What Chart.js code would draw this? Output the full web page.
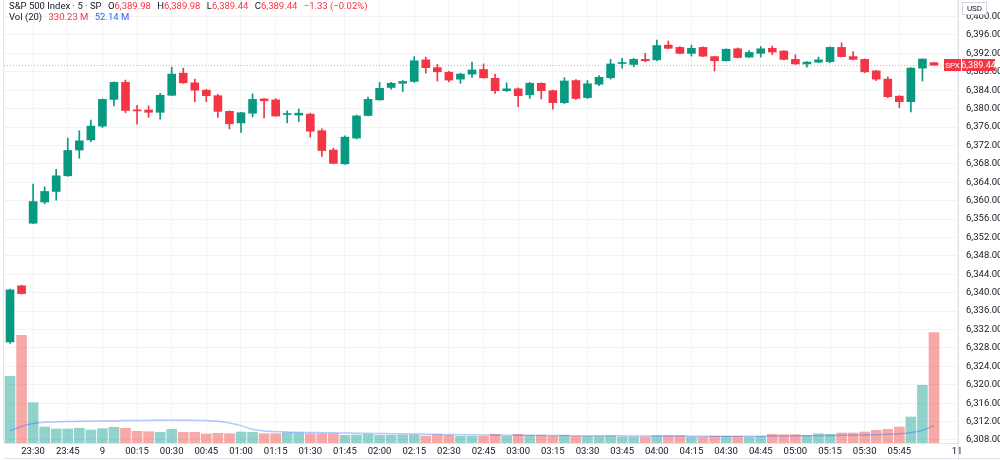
<!DOCTYPE html>
<html>
<head>
<meta charset="utf-8">
<script src="https://cdn.jsdelivr.net/npm/chart.js@4.4.1/dist/chart.umd.min.js"></script>
<style>
  html, body { margin: 0; padding: 0; background: #fff; }
  #wrap { position: relative; width: 1000px; height: 460px; }
  #legend { position: absolute; left: 9px; top: 1px; font: 9.5px Roboto, "Noto Sans", sans-serif; color: #131722; line-height: 10.5px; pointer-events: none; white-space: nowrap; }
  #legend .r { color: #f23645; }
  #legend .b { color: #2962ff; }
  #legend span.k { margin-left: 4px; }
</style>
</head>
<body>
<div id="wrap">
  <canvas id="chart" width="1000" height="460"></canvas>
  <div id="legend">
    <div>S&amp;P 500 Index · 5 · SP <span class="k">O</span><span class="r">6,389.98</span> <span class="k">H</span><span class="r">6,389.98</span> <span class="k">L</span><span class="r">6,389.44</span> <span class="k">C</span><span class="r">6,389.44</span> <span class="r k">−1.33 (−0.02%)</span></div>
    <div>Vol (20) <span class="r k">330.23 M</span> <span class="b k">52.14 M</span></div>
  </div>
</div>
<script>
// Dados das velas de 5 minutos (23:20 -> 06:00)
const opens = [6329.3, 6341.5, 6355.1, 6359.7, 6362.0, 6365.4, 6371.0, 6373.2, 6376.2, 6382.0,
  6385.7, 6379.7, 6379.7, 6379.2, 6382.9, 6387.7, 6385.6, 6384.0, 6382.8, 6379.4,
  6376.9, 6379.0, 6382.1, 6381.9, 6378.7, 6378.6, 6378.8, 6375.2, 6371.0, 6368.0,
  6373.6, 6378.5, 6381.9, 6384.6, 6385.5, 6385.9, 6390.6, 6388.9, 6387.9, 6386.4,
  6387.5, 6388.5, 6386.6, 6383.9, 6384.3, 6383.0, 6385.5, 6383.9, 6381.3, 6386.1,
  6382.4, 6385.3, 6386.7, 6389.8, 6389.6, 6390.7, 6390.6, 6393.8, 6393.3, 6392.0,
  6393.3, 6391.3, 6390.4, 6393.0, 6391.2, 6392.0, 6393.1, 6392.5, 6390.7, 6389.7,
  6390.1, 6390.2, 6393.3, 6391.3, 6390.7, 6388.2, 6386.4, 6382.7, 6381.5, 6388.8,
  6389.98];
const highs = [6340.8, 6341.6, 6363.6, 6363.0, 6366.8, 6373.6, 6375.2, 6377.5, 6382.1, 6385.8,
  6386.2, 6380.7, 6380.6, 6383.3, 6389.0, 6388.8, 6386.4, 6384.2, 6383.1, 6379.5,
  6379.2, 6383.2, 6382.2, 6382.2, 6379.5, 6379.9, 6379.0, 6375.6, 6371.4, 6374.1,
  6378.6, 6382.5, 6385.7, 6385.7, 6386.1, 6391.3, 6391.2, 6389.6, 6388.1, 6387.7,
  6390.1, 6389.7, 6387.5, 6385.6, 6384.5, 6385.7, 6385.6, 6384.0, 6386.7, 6386.3,
  6386.1, 6387.2, 6390.7, 6390.9, 6390.9, 6392.0, 6394.9, 6394.7, 6393.5, 6393.8,
  6393.4, 6391.4, 6393.0, 6393.2, 6392.6, 6393.5, 6393.6, 6392.6, 6391.7, 6390.2,
  6391.2, 6393.4, 6394.3, 6392.4, 6390.8, 6388.3, 6386.9, 6382.8, 6388.9, 6390.8,
  6389.98];
const lows = [6329.0, 6339.7, 6355.0, 6359.3, 6360.1, 6365.3, 6369.2, 6372.8, 6375.9, 6380.6,
  6379.1, 6376.6, 6378.1, 6377.7, 6382.8, 6385.5, 6381.5, 6381.5, 6378.1, 6375.6,
  6374.8, 6378.2, 6378.0, 6378.3, 6376.9, 6377.2, 6373.8, 6369.6, 6368.0, 6367.9,
  6373.4, 6378.4, 6381.8, 6384.2, 6383.7, 6385.7, 6387.7, 6386.0, 6385.8, 6385.5,
  6386.8, 6386.6, 6383.3, 6383.7, 6380.4, 6382.2, 6382.1, 6379.9, 6381.1, 6382.0,
  6382.2, 6385.0, 6386.4, 6388.8, 6389.1, 6390.2, 6390.4, 6393.0, 6391.9, 6391.4,
  6391.3, 6388.2, 6390.3, 6391.0, 6391.1, 6391.2, 6391.7, 6390.6, 6389.6, 6389.0,
  6390.0, 6390.0, 6391.2, 6390.6, 6387.8, 6386.1, 6382.4, 6380.2, 6379.3, 6386.0,
  6389.44];
const closes = [6340.6, 6339.8, 6359.8, 6362.0, 6365.4, 6370.9, 6373.0, 6376.2, 6382.0, 6385.7,
  6379.6, 6379.5, 6379.2, 6382.9, 6387.5, 6385.6, 6384.0, 6382.8, 6379.4, 6376.7,
  6379.1, 6382.0, 6381.7, 6378.4, 6378.8, 6379.0, 6375.1, 6370.9, 6368.1, 6373.8,
  6378.4, 6382.0, 6384.4, 6385.5, 6385.9, 6390.4, 6388.9, 6388.0, 6386.2, 6387.5,
  6388.4, 6386.7, 6383.9, 6384.3, 6382.8, 6385.5, 6383.9, 6381.3, 6386.0, 6382.2,
  6385.4, 6386.8, 6389.7, 6389.9, 6390.7, 6390.4, 6393.7, 6393.1, 6392.0, 6393.1,
  6391.4, 6390.4, 6392.9, 6391.1, 6392.2, 6393.0, 6392.3, 6390.7, 6389.7, 6390.1,
  6390.6, 6393.3, 6391.3, 6390.7, 6388.0, 6386.4, 6382.6, 6381.5, 6388.8, 6390.77,
  6389.44];
// Volume em milhões
const volumes = [199.5, 322.0, 120.5, 47.8, 41.9, 41.9, 44.0, 38.9, 42.8, 47.0,
  44.0, 35.0, 33.8, 32.0, 41.0, 32.0, 32.0, 26.9, 29.0, 27.8,
  32.9, 32.0, 27.8, 27.8, 30.8, 29.9, 27.8, 27.8, 27.8, 23.0,
  23.9, 26.0, 23.0, 23.0, 23.9, 23.9, 20.9, 24.8, 23.0, 20.0,
  20.0, 20.0, 26.0, 20.0, 26.0, 23.0, 23.0, 20.9, 23.0, 20.0,
  20.0, 20.0, 20.9, 17.9, 17.9, 17.9, 21.8, 21.8, 21.8, 17.9,
  17.9, 20.0, 20.0, 20.0, 17.9, 20.0, 26.0, 24.8, 24.8, 23.0,
  27.8, 26.0, 29.9, 29.9, 32.9, 38.0, 41.0, 47.8, 77.7, 172.5,
  330.23];
// Média móvel do volume (20)
const volumeMA = [36, 50, 58, 62, 63, 64, 65, 65, 66, 66,
  67, 67, 68, 68, 68, 68, 68, 67, 65, 60,
  52, 41, 36, 34, 33, 32, 31.5, 31, 30.5, 30,
  29.5, 29, 28.5, 28, 27.5, 27, 26.5, 26, 25.5, 25,
  24.5, 24, 24, 23.5, 23.5, 23, 23, 22.5, 22.5, 22,
  22, 22, 21.5, 21.5, 21, 21, 21, 21, 21, 20.5,
  20.5, 20.5, 20.5, 20.5, 20.5, 20.5, 21, 21, 21.5, 21.5,
  22, 22.5, 23, 23.5, 24, 25, 26.5, 28, 31, 38,
  52.14];
// Rótulos do eixo do tempo
const tickIdx = [2, 5, 8, 11, 14, 17, 20, 23, 26, 29, 32, 35, 38, 41, 44, 47, 50, 53, 56, 59, 62, 65, 68, 71, 74, 77, 82];
const tickLabels = ['23:30', '23:45', '9', '00:15', '00:30', '00:45', '01:00', '01:15', '01:30', '01:45',
  '02:00', '02:15', '02:30', '02:45', '03:00', '03:15', '03:30', '03:45', '04:00', '04:15',
  '04:30', '04:45', '05:00', '05:15', '05:30', '05:45', '11'];
const lastPrice = 6389.44;

const UP = '#089981', DOWN = '#f23645';
const UP_VOL = 'rgba(38, 166, 154, 0.5)', DOWN_VOL = 'rgba(239, 83, 80, 0.5)';

const isUp = closes.map((c, i) => c >= opens[i]);
const candleColors = isUp.map(u => u ? UP : DOWN);
const volColors = isUp.map(u => u ? UP_VOL : DOWN_VOL);

const fmt = v => v.toLocaleString('en-US', { minimumFractionDigits: 2, maximumFractionDigits: 2 });

// Linha do último preço + etiquetas do eixo
const priceLinePlugin = {
  id: 'priceLine',
  beforeDatasetsDraw(chart) {
    const { ctx, chartArea: a, scales: { y } } = chart;
    const py = Math.round(y.getPixelForValue(lastPrice)) + 0.5;
    ctx.save();
    ctx.strokeStyle = 'rgba(242, 54, 69, 0.45)';
    ctx.lineWidth = 1;
    ctx.setLineDash([1, 2]);
    ctx.beginPath();
    ctx.moveTo(a.left, py);
    ctx.lineTo(a.right, py);
    ctx.stroke();
    ctx.restore();
  },
  afterDraw(chart) {
    const { ctx, chartArea: a, scales: { y } } = chart;
    ctx.save();
    // moldura
    ctx.strokeStyle = '#e0e3eb';
    ctx.lineWidth = 1;
    ctx.beginPath();
    ctx.moveTo(a.right + 0.5, 0);
    ctx.lineTo(a.right + 0.5, 460);
    ctx.moveTo(a.left - 0.5, 0);
    ctx.lineTo(a.left - 0.5, a.bottom);
    ctx.moveTo(a.left, 458.5);
    ctx.lineTo(1000, 458.5);
    ctx.stroke();

    const py = Math.round(y.getPixelForValue(lastPrice));
    ctx.fillStyle = DOWN;
    ctx.fillRect(944, py - 6, 17, 12);
    ctx.fillRect(962, py - 6, 33, 12);
    ctx.fillStyle = '#fff';
    ctx.font = '8px Roboto, sans-serif';
    ctx.textBaseline = 'middle';
    ctx.textAlign = 'center';
    ctx.fillText('SPX', 952.5, py + 0.5);
    ctx.font = '9px Roboto, sans-serif';
    ctx.fillText(fmt(lastPrice), 978.5, py + 0.5);

    // moeda
    ctx.fillStyle = '#fff';
    ctx.fillRect(962, 2, 25, 13);
    ctx.strokeStyle = '#d1d4dc';
    ctx.strokeRect(962.5, 2.5, 24, 12);
    ctx.fillStyle = '#131722';
    ctx.font = '8px Roboto, sans-serif';
    ctx.fillText('USD', 974.5, 9);
    ctx.restore();
  }
};

const xs = opens.map((_, i) => i);

new Chart(document.getElementById('chart'), {
  type: 'bar',
  data: {
    datasets: [
      {
        label: 'Wicks',
        data: xs.map(i => ({ x: i, y: [lows[i], highs[i]] })),
        backgroundColor: candleColors,
        barThickness: 1,
        grouped: false,
        yAxisID: 'y',
        order: 2
      },
      {
        label: 'Bodies',
        data: xs.map(i => ({ x: i, y: [opens[i], closes[i]] })),
        backgroundColor: candleColors,
        barThickness: 8,
        minBarLength: 1,
        grouped: false,
        yAxisID: 'y',
        order: 1
      },
      {
        label: 'Volume',
        data: xs.map(i => ({ x: i, y: volumes[i] })),
        backgroundColor: volColors,
        barThickness: 10,
        grouped: false,
        yAxisID: 'vol',
        order: 4
      },
      {
        type: 'line',
        label: 'Vol MA',
        data: xs.map(i => ({ x: i, y: volumeMA[i] })),
        borderColor: 'rgba(41, 98, 255, 0.35)',
        borderWidth: 1.5,
        pointRadius: 0,
        tension: 0.4,
        yAxisID: 'vol',
        order: 3
      }
    ]
  },
  options: {
    responsive: false,
    animation: false,
    layout: { padding: { left: 4, top: 0, right: 0, bottom: 0 } },
    plugins: { legend: { display: false }, tooltip: { enabled: false } },
    scales: {
      x: {
        type: 'linear',
        min: -0.52,
        max: 82.08,
        offset: false,
        grid: { color: '#f2f3f5', offset: false, drawTicks: false },
        border: { color: '#e0e3eb' },
        afterBuildTicks: s => { s.ticks = tickIdx.map(v => ({ value: v })); },
        afterFit: s => { s.height = 17; },
        ticks: {
          autoSkip: false,
          maxRotation: 0,
          padding: 3,
          color: '#131722',
          font: { size: 9.5, family: 'Roboto, sans-serif' },
          callback: v => tickLabels[tickIdx.indexOf(v)]
        }
      },
      y: {
        position: 'right',
        min: 6307.34,
        max: 6403.6,
        grid: { color: '#f2f3f5', drawTicks: false },
        border: { display: false },
        afterFit: s => { s.width = 42; s.paddingTop = 0; s.paddingBottom = 0; },
        ticks: {
          stepSize: 4,
          includeBounds: false,
          padding: 8,
          color: '#131722',
          font: { size: 9.5, family: 'Roboto, sans-serif' },
          callback: v => fmt(v)
        }
      },
      vol: {
        display: false,
        min: 0,
        max: 1325
      }
    }
  },
  plugins: [priceLinePlugin]
});
</script>
</body>
</html>
